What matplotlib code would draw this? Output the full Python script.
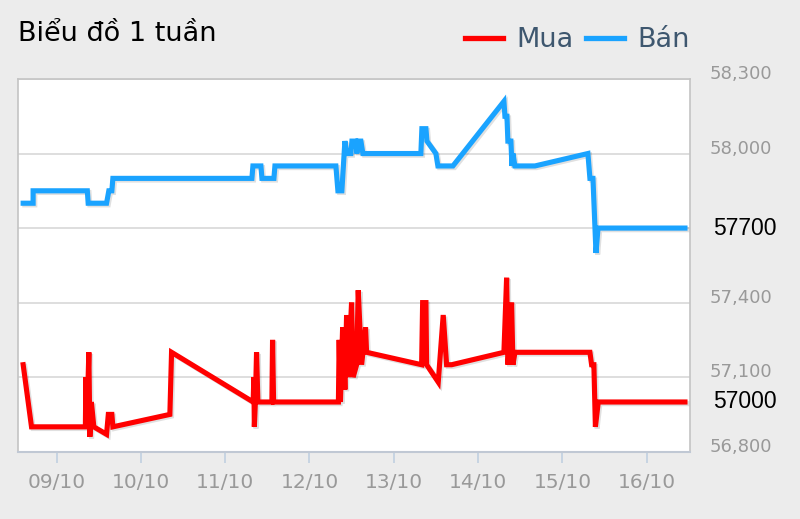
import numpy as np
import matplotlib
matplotlib.use("Agg")
import matplotlib.pyplot as plt
import matplotlib.patheffects as pe

# days counted from 09/10 00:00
day_labels = ["09/10", "10/10", "11/10", "12/10", "13/10", "14/10", "15/10", "16/10"]

ban_days = [-0.396, -0.278, -0.278, 0.365, 0.375, 0.593, 0.620, 0.656, 0.668,
            2.317, 2.329, 2.424, 2.436, 2.578, 2.590, 3.313, 3.337, 3.384,
            3.420, 3.444, 3.491, 3.503, 3.550, 3.562, 3.574, 3.610, 3.633,
            4.321, 4.333, 4.381, 4.393, 4.499, 4.523, 4.701, 5.306, 5.318,
            5.342, 5.353, 5.389, 5.401, 5.413, 5.436, 5.520, 5.674, 6.302,
            6.326, 6.362, 6.398, 6.422, 7.453]
ban_price = [57800, 57800, 57850, 57850, 57800, 57800, 57850, 57850, 57900,
             57900, 57950, 57950, 57900, 57900, 57950, 57950, 57850, 57850,
             58050, 58000, 58000, 58050, 58050, 58000, 58050, 58050, 58000,
             58000, 58100, 58100, 58050, 58000, 57950, 57950, 58210, 58150,
             58150, 58050, 58050, 57950, 58000, 57950, 57950, 57950, 58000,
             57900, 57900, 57600, 57700, 57700]

mua_days = [-0.396, -0.297, 0.342, 0.348, 0.359, 0.383, 0.395, 0.413, 0.442,
            0.593, 0.614, 0.656, 0.668, 1.344, 1.364, 2.332, 2.340, 2.346,
            2.358, 2.372, 2.388, 2.554, 2.562, 2.574, 3.343, 3.352, 3.367,
            3.393, 3.420, 3.440, 3.459, 3.499, 3.518, 3.559, 3.578, 3.618,
            3.665, 3.677, 4.330, 4.342, 4.381, 4.389, 4.527, 4.586, 4.626,
            4.686, 5.306, 5.338, 5.354, 5.397, 5.413, 5.437, 6.326, 6.346,
            6.373, 6.391, 6.425, 7.453]
mua_price = [57150, 56900, 56900, 57100, 56900, 57200, 56860, 57000, 56900,
             56870, 56950, 56950, 56900, 56950, 57200, 57000, 57100, 56900,
             57000, 57200, 57000, 57000, 57250, 57000, 57000, 57250, 57000,
             57300, 57050, 57350, 57100, 57400, 57100, 57150, 57450, 57150,
             57300, 57200, 57150, 57400, 57400, 57150, 57080, 57350, 57150,
             57150, 57200, 57500, 57150, 57400, 57150, 57200, 57200, 57150,
             57150, 56900, 57000, 57000]

y_ticks = [56800, 57100, 57400, 57700, 58000, 58300]
y_labels = ["56,800", "57,100", "57,400", "", "58,000", "58,300"]
last_mua = 57000
last_ban = 57700

bg = "#ececec"
fig = plt.figure(figsize=(8, 5.19), dpi=100, facecolor=bg)
ax = fig.add_axes([0.022, 0.1297, 0.8405, 0.7181])
ax.set_facecolor("white")

shadow = [pe.SimpleLineShadow(offset=(1.2, -1.2), shadow_color="black", alpha=0.12), pe.Normal()]
ax.plot(mua_days, mua_price, color="#ff0000", lw=3.7, solid_joinstyle="miter",
        path_effects=shadow, label="Mua", zorder=3)
ax.plot(ban_days, ban_price, color="#1aa3ff", lw=3.7, solid_joinstyle="miter",
        path_effects=shadow, label="Bán", zorder=3)

ax.set_xlim(-0.462, 7.513)
ax.set_ylim(56800, 58300)
ax.set_yticks(y_ticks)
ax.grid(axis="y", color="#d8d8d8", lw=1.2)
ax.set_axisbelow(True)

ax.set_xticks(range(len(day_labels)))
ax.set_xticklabels(day_labels)
ax.tick_params(axis="x", direction="out", length=8, width=1.2, color="#c0d0e0",
               labelcolor="#999999", labelsize=14.5, pad=7.5)
ax.yaxis.tick_right()
ax.tick_params(axis="y", length=0, labelsize=13, labelcolor="#999999", pad=14)
ax.set_yticklabels(y_labels, va="baseline")

for s in ["left", "top", "right"]:
    ax.spines[s].set_color("#c4c4c4")
    ax.spines[s].set_linewidth(1.2)
ax.spines["bottom"].set_color("#c0c8d4")
ax.spines["bottom"].set_linewidth(1.5)

for v in [last_ban, last_mua]:
    ax.annotate(str(v), xy=(1, v), xycoords=("axes fraction", "data"),
                xytext=(16.5, 0), textcoords="offset points", va="center", ha="left",
                fontsize=16.5, color="black", family="Liberation Sans")

fig.text(0.022, 0.935, "Biểu đồ 1 tuần", fontsize=19.5, color="black", va="center", ha="left")

leg = ax.legend(loc="center right", bbox_to_anchor=(0.862, 0.922),
                bbox_transform=fig.transFigure, ncol=2, frameon=False,
                fontsize=19.5, handlelength=1.4, handletextpad=0.5, columnspacing=0.45,
                borderaxespad=0, borderpad=0)
for t in leg.get_texts():
    t.set_color("#3e576f")
for h in leg.get_lines():
    h.set_linewidth(3.8)
    h.set_path_effects([])

fig.savefig("out.png", dpi=100, facecolor=bg)
